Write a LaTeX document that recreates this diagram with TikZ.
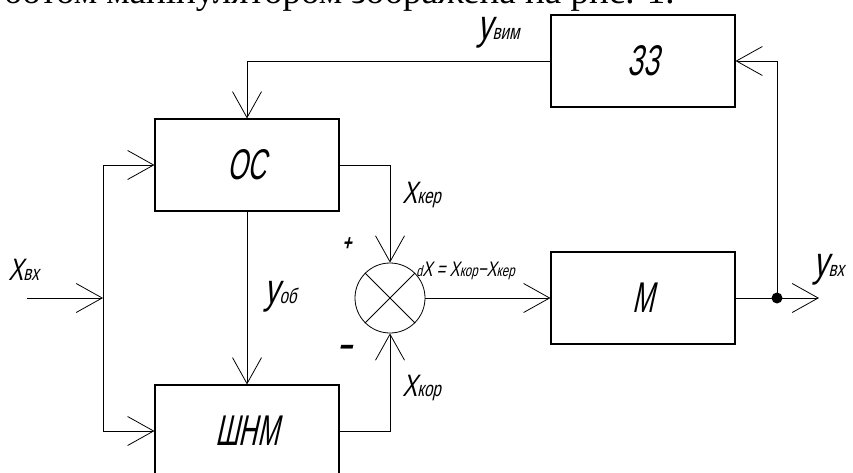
\documentclass[tikz,border=0pt]{standalone}
\usepackage{fontspec}
\setmainfont{Liberation Serif}
\newfontfamily\gost[FakeSlant=0.22,FakeStretch=0.72]{Liberation Sans}
\newfontfamily\gostbox[FakeSlant=0.22,FakeStretch=0.6]{Liberation Sans}
\usetikzlibrary{arrows.meta}
\newcommand\fs[1]{\fontsize{#1}{#1}\selectfont}
\newcommand\sig[4]{{\fs{#1}#3}{\fs{#2}#4}}

\begin{document}
\begin{tikzpicture}[x=1pt, y=-1pt, line width=0.8pt,
  >={Straight Barb[length=26pt,width=29pt,line width=0.8pt]},
  block/.style={draw, line width=1.1pt, minimum width=184pt, minimum height=92pt, inner sep=0pt, font=\gostbox\fs{43}},
  lbl/.style={anchor=base west, inner sep=0pt, font=\gost}]
\useasboundingbox (0,0) rectangle (853,473);
\node[anchor=base east, inner sep=0pt, font=\fs{37}] (txt) at (675,4) {ботом маніпулятором зображена на рис. 1.};
% blocks
\node[block] (zz) at (643,61) {ЗЗ};
\node[block] (oc) at (247,165) {ОС};
\node[block] (shnm) at (247,431) {ШНМ};
\node[block] (m) at (643,298) {М};
\node[draw, circle, minimum size=70pt, inner sep=0pt] (sum) at (390,298) {};
\draw (sum.45) -- (sum.225);
\draw (sum.135) -- (sum.315);
\coordinate (in) at (27,298);
\coordinate (bus) at (103,298);
\coordinate (out) at (819,298);
\node[circle, fill, inner sep=0pt, minimum size=11pt] (dot) at (777,298) {};
% connectors
\draw [->] (zz.west) -- (oc.north |- zz.west) -- (oc.north);
\draw [->] (in) -- (bus);
\draw [->] (bus) |- (oc.west);
\draw [->] (bus) |- (shnm.west);
\draw [->] (oc.south) -- (shnm.north);
\draw [->] (oc.east) -| (sum.north);
\draw [->] (shnm.east) -| (sum.south);
\draw [->] (sum.east) -- (m.west);
\draw [->] (m.east) -- (out);
\draw [->] (dot.center) |- (zz.east);
% labels
\node[lbl] (lvim) at (477,40) {\sig{42}{21}{у}{вим}};
\node[lbl] (lin) at (8,280) {\sig{31}{21}{X}{вх}};
\node[lbl] (lob) at (264,303) {\sig{42}{21}{у}{об}};
\node[lbl] (lker) at (402,203) {\sig{31}{21}{X}{кер}};
\node[lbl] (lkor) at (402,396) {\sig{31}{21}{X}{кор}};
\node[lbl] (lout) at (813,276) {\sig{42}{21}{у}{вх}};
\node[lbl] (ldx) at (416,276) {\sig{15}{21}{d}{X = }\sig{21}{16}{X}{кор}{\fs{21}−}\sig{21}{16}{X}{кер}};
\node[lbl, font=\gost\bfseries\fs{22}] (lplus) at (342,250) {+};
\node[lbl, font=\gost\bfseries\fs{34}] (lminus) at (337,358) {−};
\end{tikzpicture}
\end{document}
